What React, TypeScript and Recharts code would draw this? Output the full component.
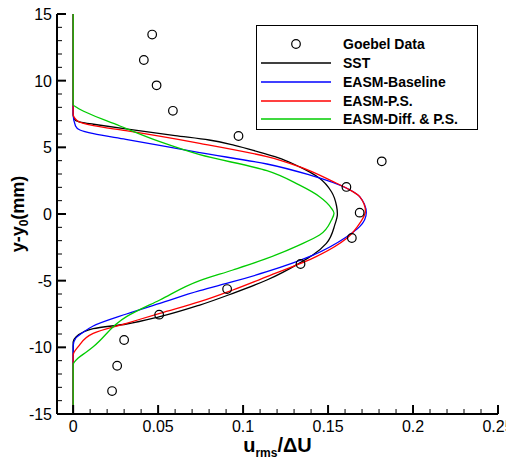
import React from 'react';
import { ScatterChart, Scatter, XAxis, YAxis, Legend } from 'recharts';

const FONT = '"Liberation Sans", Arial, Helvetica, sans-serif';

// Axis ticks
const xTicks = [0, 0.01, 0.02, 0.03, 0.04, 0.05, 0.06, 0.07, 0.08, 0.09, 0.1, 0.11, 0.12, 0.13, 0.14, 0.15, 0.16, 0.17, 0.18, 0.19, 0.2, 0.21, 0.22, 0.23, 0.24, 0.25];
const xMajorTicks = [0, 0.05, 0.1, 0.15, 0.2, 0.25];
const yTicks = [-15, -14, -13, -12, -11, -10, -9, -8, -7, -6, -5, -4, -3, -2, -1, 0, 1, 2, 3, 4, 5, 6, 7, 8, 9, 10, 11, 12, 13, 14, 15];
const yMajorTicks = [-15, -10, -5, 0, 5, 10, 15];

// Experimental data (u_rms/dU, y-y0)
const goebelData = [
  { x: 0.0229, y: -13.28 },
  { x: 0.0259, y: -11.38 },
  { x: 0.030, y: -9.45 },
  { x: 0.0506, y: -7.55 },
  { x: 0.0906, y: -5.63 },
  { x: 0.1338, y: -3.75 },
  { x: 0.164, y: -1.8 },
  { x: 0.1686, y: 0.1 },
  { x: 0.1608, y: 2.03 },
  { x: 0.1816, y: 3.95 },
  { x: 0.0973, y: 5.85 },
  { x: 0.0587, y: 7.74 },
  { x: 0.0491, y: 9.65 },
  { x: 0.0416, y: 11.55 },
  { x: 0.0465, y: 13.46 },
];

const sstData = [
  { x: 0, y: -15 }, { x: 0, y: -9.6 }, { x: 0.0018, y: -9.2 }, { x: 0.006, y: -8.85 },
  { x: 0.0118, y: -8.6 }, { x: 0.0314, y: -8.25 }, { x: 0.051, y: -7.7 }, { x: 0.0745, y: -6.83 },
  { x: 0.094, y: -5.95 }, { x: 0.114, y: -4.95 }, { x: 0.133, y: -3.7 }, { x: 0.141, y: -3.08 },
  { x: 0.149, y: -2.2 }, { x: 0.154, y: -0.8 }, { x: 0.1555, y: 0 }, { x: 0.155, y: 0.6 },
  { x: 0.152, y: 1.67 }, { x: 0.145, y: 2.68 }, { x: 0.133, y: 3.55 }, { x: 0.12, y: 4.25 },
  { x: 0.11, y: 4.62 }, { x: 0.095, y: 5.15 }, { x: 0.08, y: 5.55 }, { x: 0.06, y: 5.88 },
  { x: 0.031, y: 6.38 }, { x: 0.012, y: 6.73 }, { x: 0.005, y: 6.87 }, { x: 0.0012, y: 7.05 },
  { x: 0, y: 7.4 }, { x: 0, y: 15 },
];

const baselineData = [
  { x: 0, y: -15 }, { x: 0, y: -9.9 }, { x: 0.0016, y: -9.3 }, { x: 0.005, y: -8.95 },
  { x: 0.0118, y: -8.4 }, { x: 0.0314, y: -7.5 }, { x: 0.051, y: -6.7 }, { x: 0.0745, y: -5.75 },
  { x: 0.094, y: -5.08 }, { x: 0.114, y: -4.33 }, { x: 0.139, y: -3.2 }, { x: 0.161, y: -1.7 },
  { x: 0.1686, y: -0.95 }, { x: 0.1725, y: 0.1 }, { x: 0.1686, y: 1.3 }, { x: 0.161, y: 1.93 },
  { x: 0.139, y: 2.93 }, { x: 0.114, y: 3.75 }, { x: 0.0745, y: 4.6 }, { x: 0.031, y: 5.6 },
  { x: 0.012, y: 6.02 }, { x: 0.004, y: 6.3 }, { x: 0.0014, y: 6.6 }, { x: 0, y: 7.5 },
  { x: 0, y: 15 },
];

const psData = [
  { x: 0, y: -15 }, { x: 0, y: -10.6 }, { x: 0.003, y: -9.95 }, { x: 0.0118, y: -8.95 },
  { x: 0.0314, y: -8.2 }, { x: 0.051, y: -7.45 }, { x: 0.0745, y: -6.58 }, { x: 0.094, y: -5.7 },
  { x: 0.114, y: -4.7 }, { x: 0.143, y: -3.2 }, { x: 0.161, y: -1.82 }, { x: 0.1686, y: -0.7 },
  { x: 0.172, y: 0.2 }, { x: 0.1686, y: 1.3 }, { x: 0.161, y: 1.93 }, { x: 0.153, y: 2.43 },
  { x: 0.133, y: 3.55 }, { x: 0.114, y: 4.3 }, { x: 0.0745, y: 5.3 }, { x: 0.031, y: 6.25 },
  { x: 0.012, y: 6.62 }, { x: 0.0024, y: 7.0 }, { x: 0, y: 7.5 }, { x: 0, y: 15 },
];

const diffPsData = [
  { x: 0, y: -15 }, { x: 0, y: -11.3 }, { x: 0.003, y: -10.8 }, { x: 0.008, y: -10.33 },
  { x: 0.0118, y: -9.95 }, { x: 0.0314, y: -7.7 }, { x: 0.051, y: -6.45 }, { x: 0.0745, y: -5.0 },
  { x: 0.094, y: -4.2 }, { x: 0.114, y: -3.33 }, { x: 0.133, y: -2.33 }, { x: 0.145, y: -1.58 },
  { x: 0.152, y: -0.45 }, { x: 0.1535, y: 0.05 }, { x: 0.152, y: 0.43 }, { x: 0.145, y: 1.3 },
  { x: 0.133, y: 2.18 }, { x: 0.114, y: 3.25 }, { x: 0.0745, y: 4.45 }, { x: 0.051, y: 5.42 },
  { x: 0.0275, y: 6.6 }, { x: 0.002, y: 8.0 }, { x: 0, y: 8.2 }, { x: 0, y: 15 },
];

const seriesNames = ['SST', 'EASM-Baseline', 'EASM-P.S.', 'EASM-Diff. & P.S.'];
const seriesColors = ['#000000', '#0000ff', '#ff0000', '#00cc00'];
const seriesData = [sstData, baselineData, psData, diffPsData];
const dataName = 'Goebel Data';

const isMajor = (v: number, majors: number[]) => majors.some((m) => Math.abs(m - v) < 1e-9);

const XTick = (props: any) => {
  const { x, y, payload } = props;
  const major = isMajor(payload.value, xMajorTicks);
  return (
    <g>
      <line x1={x} y1={y} x2={x} y2={y - (major ? 9 : 5)} stroke="#000" strokeWidth={major ? 2 : 1} />
      {major && (
        <text x={x} y={y + 18} textAnchor="middle" fontSize={16} fontFamily={FONT} fill="#000">
          {String(payload.value)}
        </text>
      )}
    </g>
  );
};

const YTick = (props: any) => {
  const { x, y, payload } = props;
  const major = isMajor(payload.value, yMajorTicks);
  return (
    <g>
      <line x1={x} y1={y} x2={x + (major ? 9 : 5)} y2={y} stroke="#000" strokeWidth={major ? 2 : 1} />
      {major && (
        <text x={x - 5} y={y + 6} textAnchor="end" fontSize={16} fontFamily={FONT} fill="#000">
          {String(payload.value)}
        </text>
      )}
    </g>
  );
};

const XLabel = (props: any) => {
  const vb = props.viewBox || { x: 0, y: 0, width: 0, height: 0 };
  const cx = vb.x + vb.width / 2;
  return (
    <text x={cx} y={vb.y + 38} textAnchor="middle" fontFamily={FONT} fontWeight="bold" fontSize={20} fill="#000">
      <tspan>u</tspan>
      <tspan fontSize={12} dy={5}>rms</tspan>
      <tspan dy={-5}>/ΔU</tspan>
    </text>
  );
};

const YLabel = (props: any) => {
  const vb = props.viewBox || { x: 0, y: 0, width: 0, height: 0 };
  const cx = vb.x + 16;
  const cy = vb.y + vb.height / 2;
  return (
    <text x={cx} y={cy} transform={`rotate(-90 ${cx} ${cy})`} textAnchor="middle" fontFamily={FONT} fontWeight="bold" fontSize={18} fill="#000">
      <tspan>y-y</tspan>
      <tspan fontSize={12} dy={4}>0</tspan>
      <tspan dy={-4}>(mm)</tspan>
    </text>
  );
};

const OpenCircle = (props: any) => (
  <circle cx={props.cx} cy={props.cy} r={4.3} fill="none" stroke="#000" strokeWidth={1.2} />
);

const NoShape = () => <g />;

const LegendBox = () => {
  const rows = [
    { name: dataName, color: '#000', marker: true },
    ...seriesNames.map((n, i) => ({ name: n, color: seriesColors[i], marker: false })),
  ];
  return (
    <div
      style={{
        position: 'relative',
        width: 222,
        height: 105,
        border: '1px solid #000',
        boxSizing: 'border-box',
        background: '#fff',
        fontFamily: FONT,
        fontWeight: 'bold',
        fontSize: 14,
        color: '#000',
      }}
    >
      {rows.map((r, i) => (
        <div key={r.name} style={{ position: 'absolute', left: 0, top: 18.3 + i * 18.75 - 9, height: 18, width: '100%' }}>
          <svg width={80} height={18} style={{ position: 'absolute', left: 0, top: 0 }}>
            {r.marker ? (
              <circle cx={39} cy={9} r={4.3} fill="none" stroke="#000" strokeWidth={1.2} />
            ) : (
              <line x1={4} x2={74} y1={9} y2={9} stroke={r.color} strokeWidth={1.3} />
            )}
          </svg>
          <span style={{ position: 'absolute', left: 86, top: 0, lineHeight: '18px', whiteSpace: 'nowrap' }}>{r.name}</span>
        </div>
      ))}
    </div>
  );
};

export default function App() {
  return (
    <div style={{ marginTop: -4 }}>
      <ScatterChart width={506} height={458} margin={{ top: 10, right: 16, left: 0, bottom: 0 }}>
        <XAxis
          type="number"
          dataKey="x"
          domain={[-0.0095, 0.25]}
          ticks={xTicks}
          interval={0}
          allowDataOverflow
          tickLine={false}
          tickSize={0}
          tickMargin={0}
          tick={<XTick />}
          axisLine={{ stroke: '#000', strokeWidth: 2 }}
          height={48}
          label={{ content: <XLabel /> }}
        />
        <YAxis
          type="number"
          dataKey="y"
          domain={[-15, 15]}
          ticks={yTicks}
          interval={0}
          allowDataOverflow
          tickLine={false}
          tickSize={0}
          tickMargin={0}
          tick={<YTick />}
          axisLine={{ stroke: '#000', strokeWidth: 2 }}
          width={49}
          label={{ content: <YLabel /> }}
        />
        {seriesData.map((d, i) => (
          <Scatter
            key={seriesNames[i]}
            name={seriesNames[i]}
            data={d}
            line={{ stroke: seriesColors[i], strokeWidth: 1.3 }}
            lineType="joint"
            lineJointType="monotoneY"
            shape={<NoShape />}
            fill={seriesColors[i]}
            isAnimationActive={false}
          />
        ))}
        <Scatter name={dataName} data={goebelData} shape={<OpenCircle />} fill="none" isAnimationActive={false} />
        <Legend
          layout="vertical"
          align="center"
          verticalAlign="middle"
          content={<LegendBox />}
          wrapperStyle={{ left: 248, top: 21, width: 222, height: 105 }}
        />
      </ScatterChart>
    </div>
  );
}
